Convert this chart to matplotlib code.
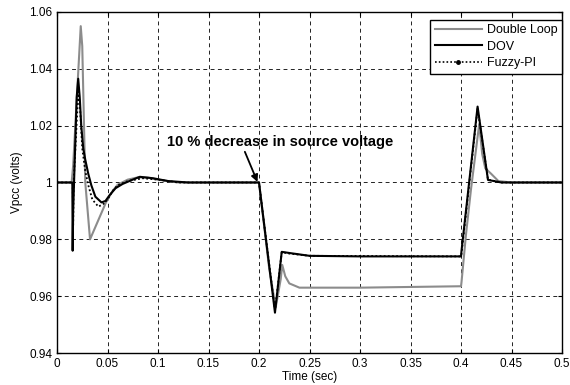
import matplotlib
matplotlib.use('Agg')
import matplotlib.pyplot as plt
from matplotlib.lines import Line2D

plt.rcParams['font.family'] = ['Liberation Sans', 'DejaVu Sans']
plt.rcParams['font.size'] = 8

# --- dados ---
t_dl = [0, 0.0145, 0.016, 0.0235, 0.025, 0.028, 0.0327, 0.04, 0.0485, 0.055, 0.06, 0.07,
        0.08, 0.09, 0.1, 0.12, 0.2, 0.205, 0.21, 0.2165, 0.2215, 0.223, 0.226, 0.23,
        0.24, 0.3, 0.4, 0.4005, 0.405, 0.41, 0.418, 0.421, 0.424, 0.43, 0.437, 0.45, 0.5]
v_dl = [1.0, 1.0, 1.006, 1.055, 1.048, 1.0, 0.98, 0.986, 0.993, 0.997, 0.9992, 1.001,
        1.0018, 1.0017, 1.001, 1.0, 1.0, 0.985, 0.97, 0.956, 0.966, 0.971, 0.967, 0.9645,
        0.963, 0.963, 0.9635, 0.965, 0.982, 0.998, 1.0205, 1.01, 1.005, 1.003, 1.0005, 1.0, 1.0]

t_dov = [0, 0.0152, 0.0155, 0.016, 0.0195, 0.021, 0.0225, 0.024, 0.026, 0.028, 0.031,
         0.034, 0.038, 0.044, 0.048, 0.052, 0.058, 0.065, 0.075, 0.082, 0.095, 0.11,
         0.13, 0.2, 0.2158, 0.2225, 0.23, 0.25, 0.3, 0.4, 0.4005, 0.4164, 0.4267,
         0.44, 0.5]
v_dov = [1.0, 1.0, 0.976, 0.99, 1.03, 1.0365, 1.03, 1.02, 1.012, 1.008, 1.003,
         0.999, 0.995, 0.993, 0.9935, 0.9955, 0.998, 0.9995, 1.001, 1.002, 1.0015, 1.0005,
         1.0, 1.0, 0.9542, 0.9756, 0.9752, 0.9742, 0.974, 0.974, 0.976, 1.0267, 1.0009,
         1.0, 1.0]

t_fz = [0, 0.0155, 0.016, 0.0165, 0.0205, 0.0215, 0.023, 0.025, 0.028, 0.031, 0.035,
        0.041, 0.046, 0.05, 0.055, 0.06, 0.07, 0.085, 0.1, 0.12, 0.2, 0.2158, 0.2225,
        0.23, 0.25, 0.4, 0.4005, 0.4164, 0.4267, 0.44, 0.5]
v_fz = [1.0, 1.0, 0.985, 1.0, 1.028, 1.032, 1.025, 1.012, 1.004, 0.999, 0.994,
        0.9915, 0.9925, 0.994, 0.997, 0.999, 1.0005, 1.0015, 1.001, 1.0, 1.0, 0.955, 0.9755,
        0.975, 0.9742, 0.974, 0.975, 1.026, 1.001, 1.0, 1.0]

x_ticks = [0, 0.05, 0.1, 0.15, 0.2, 0.25, 0.3, 0.35, 0.4, 0.45, 0.5]
x_labels = ['0', '0.05', '0.1', '0.15', '0.2', '0.25', '0.3', '0.35', '0.4', '0.45', '0.5']
y_ticks = [0.94, 0.96, 0.98, 1.0, 1.02, 1.04, 1.06]
y_labels = ['0.94', '0.96', '0.98', '1', '1.02', '1.04', '1.06']

fig = plt.figure(figsize=(5.7, 3.85), dpi=100)
ax = fig.add_axes([0.1, 0.083, 0.886, 0.886])

ax.plot(t_dl, v_dl, color='#8c8c8c', lw=1.5)
ax.plot(t_dov, v_dov, color='black', lw=1.5)
ax.plot(t_fz, v_fz, color='black', lw=1.3, ls=(0, (1, 1.3)))

ax.set_xlim(0, 0.5)
ax.set_ylim(0.94, 1.06)
ax.set_xticks(x_ticks)
ax.set_xticklabels(x_labels)
ax.set_yticks(y_ticks)
ax.set_yticklabels(y_labels)
ax.tick_params(direction='in', top=True, right=True, length=3, labelsize=8.5)
ax.grid(True, color='#222222', ls=(0, (4, 3.5)), lw=0.7)
for s in ax.spines.values():
    s.set_linewidth(1.0)

ax.set_xlabel('Time (sec)', fontsize=8.5, labelpad=1)
ax.set_ylabel('Vpcc (volts)', fontsize=8.5, labelpad=4)

# anotacao
ax.text(0.221, 1.0143, '10 % decrease in source voltage', ha='center', va='center',
        fontsize=10.5, fontweight='bold')
ax.annotate('', xy=(0.1985, 1.0002), xytext=(0.186, 1.0108),
            arrowprops=dict(arrowstyle='-|>', color='black', lw=1.3,
                            mutation_scale=10, shrinkA=0, shrinkB=0))

handles = [Line2D([], [], color='#8c8c8c', lw=1.5),
           Line2D([], [], color='black', lw=1.5),
           Line2D([], [], color='black', lw=1.2, ls=(0, (1, 1.3)), marker='.', markersize=5)]
leg = ax.legend(handles, ['Double Loop', 'DOV', 'Fuzzy-PI'], loc='upper right',
                bbox_to_anchor=(1.0, 0.976), fontsize=9, fancybox=False,
                framealpha=1, edgecolor='black', borderpad=0.35, labelspacing=0.35,
                handlelength=3.8, handletextpad=0.4, borderaxespad=0)
leg.get_frame().set_linewidth(1.0)

fig.savefig('out.png', dpi=100)
